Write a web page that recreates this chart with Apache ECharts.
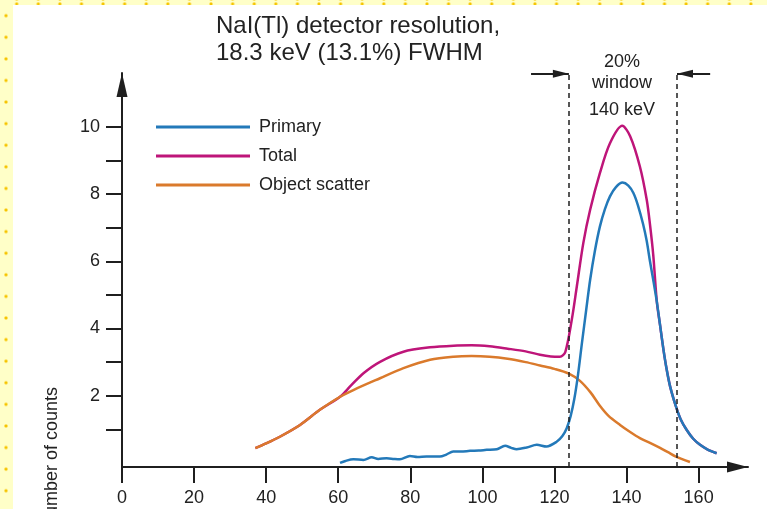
<!DOCTYPE html>
<html>
<head>
<meta charset="utf-8">
<script src="https://cdn.jsdelivr.net/npm/echarts@6/dist/echarts.min.js"></script>
<style>
html,body{margin:0;padding:0;background:#fff;}
#wrap{position:relative;width:767px;height:509px;overflow:hidden;}
#sl{position:absolute;left:0;top:0;width:13px;height:509px;background-color:#ffffc8;
  background-image:radial-gradient(circle,#f6c400 1.3px,rgba(255,255,200,0) 1.9px);
  background-size:13px 21.6px;background-position:-0.5px 4.9px;}
#st{position:absolute;left:0;top:0;width:767px;height:5px;background-color:#ffffc8;
  background-image:radial-gradient(circle,#f6c400 1.3px,rgba(255,255,200,0) 1.9px);
  background-size:21.6px 5px;background-position:5.9px 1.5px;}
#chart{position:absolute;left:0;top:0;width:767px;height:509px;}
</style>
</head>
<body>
<div id="wrap"><div id="sl"></div><div id="st"></div><div id="chart"></div></div>
<script>
// ---- data (energy keV, number of counts) ----
const seriesNames = ['Primary', 'Total', 'Object scatter'];

const primaryData = [
  [60.5,0.0],[62,0.06],[64.2,0.11],[67,0.09],[69.3,0.17],[71.1,0.12],[73.4,0.14],[75.5,0.12],
  [77.1,0.11],[79.9,0.21],[82,0.18],[84.5,0.19],[88.2,0.19],[90,0.25],[91.9,0.34],[94,0.34],
  [96.6,0.36],[99,0.37],[101.2,0.39],[104,0.41],[106.3,0.51],[108,0.45],[109.5,0.41],[112.3,0.46],
  [115.1,0.54],[117.8,0.49],[120.6,0.63],[122.2,0.8],[123.4,1.03],[124.5,1.4],[125.5,1.9],[126.5,2.6],
  [127.6,3.55],[128.8,4.55],[129.9,5.45],[131.2,6.3],[132.6,7.03],[134,7.55],[135.4,7.93],[137,8.2],
  [138.9,8.34],[140.5,8.25],[141.9,8.03],[143.2,7.65],[144.6,7.1],[145.6,6.6],[146.5,6.0],[147.4,5.45],
  [148.4,4.8],[149.3,4.1],[150.2,3.4],[151.1,2.8],[152.1,2.27],[153.7,1.68],[155,1.3],[156.7,0.98],
  [158.5,0.72],[160.4,0.54],[162.5,0.4],[165,0.29]
];

const totalData = [
  [37,0.44],[40,0.58],[43.8,0.78],[49.4,1.13],[54.9,1.58],[60.5,1.97],[63.5,2.3],[67,2.67],
  [71.6,3.01],[78.1,3.31],[85.5,3.44],[92,3.49],[97,3.5],[102,3.47],[107,3.4],[112,3.32],
  [116,3.22],[119,3.17],[121.5,3.16],[123,3.3],[124.8,4.26],[126.2,5.25],[128,6.54],[129.9,7.53],
  [132.6,8.62],[135.4,9.51],[138.8,10.03],[141,9.72],[143.7,8.82],[145.6,7.83],[146.5,7.1],[147.4,6.2],
  [148.4,4.8],[149.3,4.1],[150.2,3.4],[151.1,2.8],[152.1,2.27],[153.7,1.68],[155,1.3],[156.7,0.98],
  [158.5,0.72],[160.4,0.54],[162.5,0.4],[165,0.29]
];

const scatterData = [
  [37,0.44],[40,0.58],[43.8,0.78],[49.4,1.13],[54.9,1.58],[60.5,1.97],[64.2,2.17],[71.6,2.52],
  [78.1,2.82],[85.5,3.07],[92,3.16],[97,3.18],[102,3.16],[107,3.1],[112,3.0],[116,2.9],
  [120,2.8],[124,2.66],[127,2.45],[130,2.1],[132.6,1.7],[135,1.4],[138.2,1.13],[141,0.92],
  [143.7,0.74],[146.5,0.6],[149.3,0.45],[151.5,0.32],[153.7,0.19],[157.6,0.03]
];

const xTickValues = [0, 20, 40, 60, 80, 100, 120, 140, 160];
const yTickValues = [1, 2, 3, 4, 5, 6, 7, 8, 9, 10];
const yLabelValues = [2, 4, 6, 8, 10];
const windowEdges = [124, 154];      // 20% energy window edges (keV)
const windowArrowY = 11.58;
const windowArrowOuter = [113.5, 163.2];

const FONT = '"Liberation Sans", Arial, Helvetica, sans-serif';
const INK = '#1f1f1f';
const BLUE = '#2379b9';
const MAGENTA = '#be1579';
const ORANGE = '#da7a2c';

const chart = echarts.init(document.getElementById('chart'), null, {renderer: 'canvas'});

const arrowEnd = {symbol: 'triangle', symbolSize: [8, 16], symbolOffset: [0, 8],
  lineStyle: {type: 'solid', width: 2, color: INK}};
const arrowStart = {symbol: 'none', lineStyle: {type: 'solid', width: 2, color: INK}};

const option = {
  animation: false,
  backgroundColor: 'transparent',
  textStyle: {fontFamily: FONT},
  grid: {left: 122, right: 19, top: 73, bottom: 42, containLabel: false},
  legend: {
    data: seriesNames, orient: 'vertical', left: 156, top: 118, padding: 0,
    icon: 'rect', itemWidth: 94, itemHeight: 3, itemGap: 11,
    textStyle: {fontSize: 18, color: '#222', fontFamily: FONT, padding: [0, 0, 0, 4]}
  },
  xAxis: {
    type: 'value', min: 0, max: 173.7,
    axisLine: {onZero: false, symbol: ['none', 'triangle'], symbolSize: [11, 21], symbolOffset: [0, -10.5],
      lineStyle: {color: INK, width: 2}},
    axisTick: {show: true, customValues: xTickValues, length: 16, lineStyle: {color: INK, width: 2}},
    axisLabel: {customValues: xTickValues, margin: 22, fontSize: 18, color: '#222', fontFamily: FONT},
    splitLine: {show: false}
  },
  yAxis: {
    type: 'value', min: -0.12, max: 11.6,
    axisLine: {show: true, symbol: ['none', 'triangle'], symbolSize: [11, 24], symbolOffset: [0, -12],
      lineStyle: {color: INK, width: 2}},
    axisTick: {show: true, customValues: yTickValues, length: 16, lineStyle: {color: INK, width: 2}},
    axisLabel: {customValues: yLabelValues, margin: 22, fontSize: 18, color: '#222', fontFamily: FONT},
    splitLine: {show: false}
  },
  series: [
    {
      name: seriesNames[0], type: 'line', data: primaryData, showSymbol: false, symbol: 'none',
      smooth: 0.3, z: 4, lineStyle: {color: BLUE, width: 2.5}, itemStyle: {color: BLUE},
      markLine: {
        silent: true, symbol: 'none', label: {show: false}, animation: false,
        lineStyle: {color: INK, type: [5, 4], width: 1.5},
        emphasis: {disabled: true},
        data: [
          {xAxis: windowEdges[0]},
          {xAxis: windowEdges[1]},
          [Object.assign({coord: [windowArrowOuter[0], windowArrowY]}, arrowStart),
           Object.assign({coord: [windowEdges[0], windowArrowY]}, arrowEnd)],
          [Object.assign({coord: [windowArrowOuter[1], windowArrowY]}, arrowStart),
           Object.assign({coord: [windowEdges[1], windowArrowY]}, arrowEnd)]
        ]
      }
    },
    {
      name: seriesNames[1], type: 'line', data: totalData, showSymbol: false, symbol: 'none',
      smooth: 0.3, z: 2, lineStyle: {color: MAGENTA, width: 2.5}, itemStyle: {color: MAGENTA}
    },
    {
      name: seriesNames[2], type: 'line', data: scatterData, showSymbol: false, symbol: 'none',
      smooth: 0.3, z: 3, lineStyle: {color: ORANGE, width: 2.5}, itemStyle: {color: ORANGE}
    }
  ],
  graphic: [
    {type: 'text', x: 216, y: 13, z: 10, style: {
      text: 'NaI(Tl) detector resolution,\n18.3 keV (13.1%) FWHM',
      fontSize: 24, fontFamily: FONT, fill: '#222', lineHeight: 27, align: 'left', verticalAlign: 'top'}},
    {type: 'text', x: 622, y: 52, z: 10, style: {
      text: '20%\nwindow', fontSize: 18, fontFamily: FONT, fill: '#222', lineHeight: 21,
      align: 'center', verticalAlign: 'top'}},
    {type: 'text', x: 622, y: 100, z: 10, style: {
      text: '140 keV', fontSize: 18, fontFamily: FONT, fill: '#222', lineHeight: 20,
      align: 'center', verticalAlign: 'top'}},
    {type: 'text', x: 52, y: 458, rotation: Math.PI / 2, z: 10, style: {
      text: 'Number of counts', fontSize: 18, fontFamily: FONT, fill: '#222',
      align: 'center', verticalAlign: 'middle'}}
  ]
};
chart.setOption(option);
</script>
</body>
</html>
